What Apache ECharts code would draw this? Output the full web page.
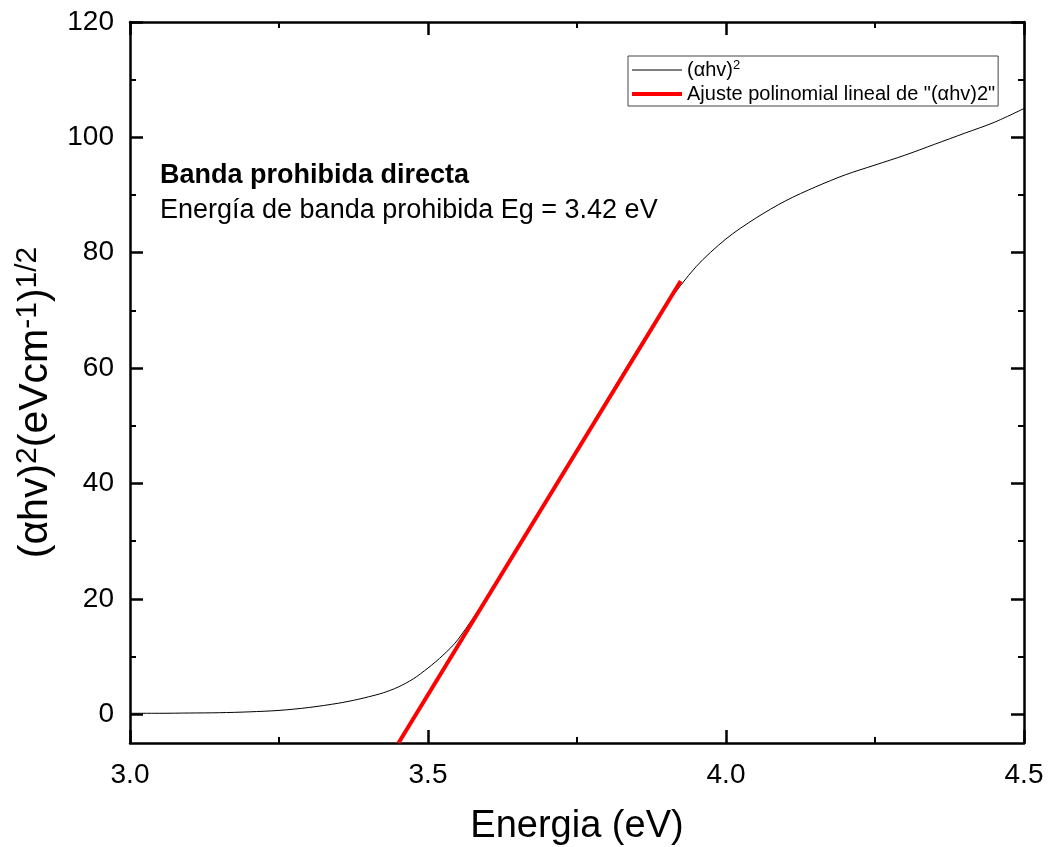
<!DOCTYPE html>
<html>
<head>
<meta charset="utf-8">
<script src="https://cdn.jsdelivr.net/npm/echarts@6/dist/echarts.min.js"></script>
<style>
  html, body { margin: 0; padding: 0; background: #fff; }
  #chart { width: 1048px; height: 847px; }
</style>
</head>
<body>
<div id="chart"></div>
<script>
// energia (eV) y (αhv)^2
var energia = [3.00, 3.05, 3.10, 3.15, 3.20, 3.25, 3.30, 3.35, 3.375, 3.40, 3.425, 3.45, 3.475, 3.50, 3.525, 3.55,
  3.60, 3.65, 3.70, 3.75, 3.80, 3.85, 3.90, 3.95, 4.00, 4.05, 4.10, 4.15, 4.20, 4.25, 4.30, 4.35, 4.40, 4.45, 4.50];
var ahv2 = [0.15, 0.15, 0.2, 0.25, 0.4, 0.65, 1.15, 1.9, 2.4, 3.0, 3.7, 4.7, 6.1, 8.0, 10.2, 12.9,
  20.5, 29.0, 37.5, 46.0, 54.5, 63.0, 71.0, 77.6, 82.4, 86.0, 89.0, 91.4, 93.5, 95.2, 96.9, 98.8, 100.7, 102.6, 105.0];
// ajuste lineal (extremos)
var ajusteX = [3.4505, 3.924];
var ajusteY = [-5, 75.1];

// ticks
var yMajor = [0, 20, 40, 60, 80, 100, 120];
var yMinor = [10, 30, 50, 70, 90, 110];
var xRange = { min: 3.0, max: 4.5, interval: 0.5 };
var yRange = { min: -5, max: 120 };

var FONT = 'Liberation Sans';
var myChart = echarts.init(document.getElementById('chart'));

var curva = energia.map(function (e, i) { return [e, ahv2[i]]; });
var ajuste = ajusteX.map(function (e, i) { return [e, ajusteY[i]]; });

function linea(show) {
  return { show: show, onZero: false, lineStyle: { color: '#000', width: 2.5 } };
}

// ejes x con ticks hacia dentro
function ejeXTicks(pos, conLinea) {
  return {
    type: 'value',
    position: pos,
    min: xRange.min,
    max: xRange.max,
    interval: xRange.interval,
    axisLine: linea(conLinea),
    axisTick: { show: true, inside: true, length: 13, lineStyle: { color: '#000', width: 2.5 } },
    minorTick: { show: true, splitNumber: 2, length: 6, lineStyle: { color: '#000', width: 2 } },
    splitLine: { show: false },
    minorSplitLine: { show: false },
    axisLabel: { show: false }
  };
}

// ejes y: solo ticks (mayor o menor)
function ejeYTicks(pos, valores, largo, ancho, conLinea) {
  return {
    type: 'value',
    position: pos,
    min: yRange.min,
    max: yRange.max,
    axisLine: linea(conLinea),
    axisTick: { show: true, inside: true, length: largo, customValues: valores, lineStyle: { color: '#000', width: ancho } },
    splitLine: { show: false },
    axisLabel: { show: false }
  };
}

var option = {
  animation: false,
  backgroundColor: '#fff',
  grid: { left: 130, right: 24, top: 22, bottom: 104, containLabel: false, outerBoundsMode: 'none' },
  legend: {
    orient: 'vertical',
    left: 628,
    top: 56,
    padding: [3, 3, 2, 2],
    itemGap: 4,
    itemWidth: 50,
    itemHeight: 14,
    borderColor: '#444',
    borderWidth: 1,
    itemStyle: { opacity: 0 },
    data: [
      { name: '(αhv)2', lineStyle: { width: 1, color: '#000' }, itemStyle: { opacity: 0 } },
      { name: 'Ajuste polinomial lineal de "(αhv)2"', lineStyle: { width: 4, color: '#ff0000' }, itemStyle: { opacity: 0 } }
    ],
    formatter: function (name) {
      if (name === '(αhv)2') return '{t|(αhv)}{s|2}';
      return '{t|' + name + '}';
    },
    textStyle: {
      fontFamily: FONT,
      color: '#000',
      rich: {
        t: { fontFamily: FONT, fontSize: 20, lineHeight: 22, color: '#000' },
        s: { fontFamily: FONT, fontSize: 13, lineHeight: 13, verticalAlign: 'top', color: '#000' }
      }
    }
  },
  xAxis: [{
    type: 'value',
    min: xRange.min,
    max: xRange.max,
    interval: xRange.interval,
    name: 'Energia (eV)',
    nameLocation: 'middle',
    nameGap: 65,
    nameTextStyle: { fontFamily: FONT, fontSize: 38, color: '#000' },
    axisLine: linea(true),
    axisTick: { show: false },
    splitLine: { show: false },
    axisLabel: {
      fontFamily: FONT, fontSize: 28, color: '#000', margin: 18,
      formatter: function (v) { return v.toFixed(1); }
    }
  },
    ejeXTicks('bottom', false),
    ejeXTicks('top', true)
  ],
  yAxis: [{
    type: 'value',
    position: 'left',
    min: yRange.min,
    max: yRange.max,
    name: '{t|(αhv)}{s|2}{t|(eVcm}{s|-1}{t|)}{s|1/2}',
    nameLocation: 'middle',
    nameGap: 70,
    nameRotate: 90,
    nameTextStyle: {
      fontFamily: FONT, fontSize: 41, color: '#000',
      padding: [0, 40, 0, 0],
      rich: {
        t: { fontFamily: FONT, fontSize: 41, lineHeight: 46, color: '#000' },
        s: { fontFamily: FONT, fontSize: 30, lineHeight: 30, verticalAlign: 'top', color: '#000' }
      }
    },
    axisLine: linea(true),
    axisTick: { show: false },
    splitLine: { show: false },
    axisLabel: { fontFamily: FONT, fontSize: 28, color: '#000', margin: 16, customValues: yMajor }
  },
    ejeYTicks('left', yMajor, 13, 2.5, false),
    ejeYTicks('left', yMinor, 6, 2, false),
    ejeYTicks('right', yMajor, 13, 2.5, true),
    ejeYTicks('right', yMinor, 6, 2, false)
  ],
  graphic: [{
    type: 'text',
    left: 160,
    top: 162,
    style: { text: 'Banda prohibida directa', fontFamily: FONT, fontSize: 27, fontWeight: 'bold', fill: '#000' }
  }, {
    type: 'text',
    left: 160,
    top: 197,
    style: { text: 'Energía de banda prohibida Eg = 3.42 eV', fontFamily: FONT, fontSize: 27, fill: '#000' }
  }],
  series: [{
    name: '(αhv)2',
    type: 'line',
    data: curva,
    smooth: 0.3,
    showSymbol: false,
    symbol: 'none',
    lineStyle: { color: '#000', width: 1 },
    itemStyle: { color: '#000' }
  }, {
    name: 'Ajuste polinomial lineal de "(αhv)2"',
    type: 'line',
    data: ajuste,
    showSymbol: false,
    symbol: 'none',
    lineStyle: { color: '#ff0000', width: 4 },
    itemStyle: { color: '#ff0000' }
  }]
};
myChart.setOption(option);
</script>
</body>
</html>
